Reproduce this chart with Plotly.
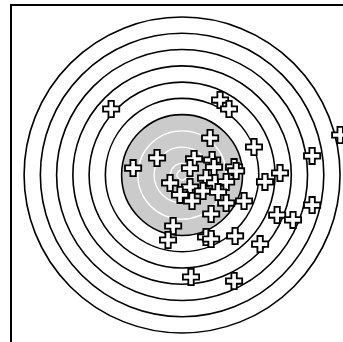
import plotly.graph_objects as go

# anillos del blanco (radios en mm, blanco de pistola de aire)
anillos_negros = [29.75, 37.75, 45.75, 53.75, 61.75, 69.75, 77.75]
anillos_blancos = [2.5, 5.75, 13.75, 21.75]
radio_gris = 29.75

# impactos (mm desde el centro)
tiro_x = [-34.9, 18.7, 23.1, 77.8, 13.8, 35.4, 64.0, -24.1, -12.3, 5.9,
          14.8, 3.9, 15.7, 25.6, 26.6, 48.2, 40.8, -5.9, 11.8, 3.9,
          16.2, 21.7, -1.0, 10.3, 17.7, 4.9, 21.7, 30.5, 64.0, 14.3,
          46.8, 54.6, -4.4, -6.9, 11.8, 14.3, 26.1, 38.4, 4.4, 25.6]
tiro_y = [32.5, 36.9, 32.5, 19.7, 18.2, 13.8, 9.4, 3.4, 8.4, 7.9,
          7.4, 3.4, 3.9, 3.9, 2.0, 1.0, -3.4, -3.9, -1.5, -5.9,
          -3.9, -3.4, -9.8, -7.9, -8.4, -12.8, -13.8, -12.8, -14.8, -19.2,
          -19.7, -22.1, -25.1, -32.0, -30.5, -31.5, -30.0, -34.0, -50.2, -52.2]

shapes = []
for r in sorted(anillos_negros, reverse=True):
    shapes.append(dict(type="circle", xref="x", yref="y", x0=-r, y0=-r, x1=r, y1=r,
                       line=dict(color="black", width=1.6),
                       fillcolor="#cbcbcb" if r == radio_gris else "rgba(0,0,0,0)",
                       layer="below"))
for r in anillos_blancos:
    shapes.append(dict(type="circle", xref="x", yref="y", x0=-r, y0=-r, x1=r, y1=r,
                       line=dict(color="white", width=1.4), layer="below"))

fig = go.Figure(go.Scatter(
    x=tiro_x, y=tiro_y, mode="markers",
    marker=dict(symbol="cross", size=13.5, color="white",
                line=dict(color="black", width=1.8)),
    cliponaxis=True, showlegend=False))

fig.update_layout(
    width=343, height=342,
    margin=dict(l=12, r=0, t=6, b=0),
    paper_bgcolor="white", plot_bgcolor="white",
    shapes=shapes,
    xaxis=dict(range=[-83.7, 79.2], showgrid=False, zeroline=False,
               showticklabels=False, ticks="", showline=True, side="top",
               linecolor="black", linewidth=2),
    yaxis=dict(range=[-82.2, 83.2], showgrid=False, zeroline=False,
               showticklabels=False, ticks="", showline=True,
               linecolor="black", linewidth=2),
)

# quitar el margen del body para que la figura llene la ventana
fig.write_html("out.html", config={"displayModeBar": False},
               post_script="document.body.style.margin='0px';")
